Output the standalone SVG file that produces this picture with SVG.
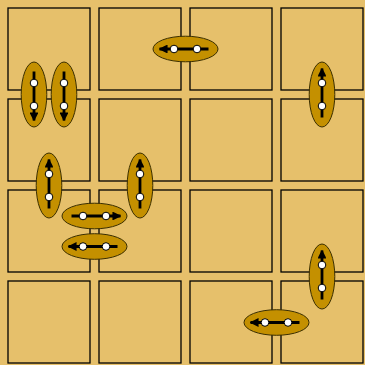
<svg xmlns="http://www.w3.org/2000/svg" width="365" height="365" viewBox="0 0 365 365">
<style>
.cell{fill:none;stroke:#000;stroke-width:1.3}
.ell{fill:#c49000;stroke:#3a2e00;stroke-width:1}
.ax{stroke:#000;stroke-width:2.8;fill:none}
.dot{fill:#fff;stroke:#000;stroke-width:1}
</style>
<defs>
<marker id="ah" viewBox="0 0 10 10" refX="9" refY="5" markerWidth="3.2" markerHeight="3.2" orient="auto" markerUnits="strokeWidth">
<path d="M0,0 L10,5 L0,10 z" fill="#000"/>
</marker>
<g id="hL">
<ellipse class="ell" cx="0" cy="0" rx="32.5" ry="12.8"/>
<line class="ax" x1="23" y1="0" x2="-26" y2="0" marker-end="url(#ah)"/>
<circle class="dot" cx="-11.5" cy="0" r="3.8"/>
<circle class="dot" cx="11.5" cy="0" r="3.8"/>
</g>
</defs>
<rect x="0" y="0" width="365" height="365" fill="#e6c06b"/>
<g id="grid">
<rect class="cell" x="8" y="8" width="82" height="82"/>
<rect class="cell" x="99" y="8" width="82" height="82"/>
<rect class="cell" x="190" y="8" width="82" height="82"/>
<rect class="cell" x="281" y="8" width="82" height="82"/>
<rect class="cell" x="8" y="99" width="82" height="82"/>
<rect class="cell" x="99" y="99" width="82" height="82"/>
<rect class="cell" x="190" y="99" width="82" height="82"/>
<rect class="cell" x="281" y="99" width="82" height="82"/>
<rect class="cell" x="8" y="190" width="82" height="82"/>
<rect class="cell" x="99" y="190" width="82" height="82"/>
<rect class="cell" x="190" y="190" width="82" height="82"/>
<rect class="cell" x="281" y="190" width="82" height="82"/>
<rect class="cell" x="8" y="281" width="82" height="82"/>
<rect class="cell" x="99" y="281" width="82" height="82"/>
<rect class="cell" x="190" y="281" width="82" height="82"/>
<rect class="cell" x="281" y="281" width="82" height="82"/>
</g>
<g id="e1"><use href="#hL" transform="translate(34,94.5) rotate(-90)"/></g>
<g id="e2"><use href="#hL" transform="translate(64,94.5) rotate(-90)"/></g>
<g id="e3"><use href="#hL" transform="translate(185.5,49)"/></g>
<g id="e4"><use href="#hL" transform="translate(322,94.5) rotate(90)"/></g>
<g id="e5"><use href="#hL" transform="translate(49,185.5) rotate(90)"/></g>
<g id="e6"><use href="#hL" transform="translate(140,185.5) rotate(90)"/></g>
<g id="e7"><use href="#hL" transform="translate(94.5,216) rotate(180)"/></g>
<g id="e8"><use href="#hL" transform="translate(94.5,246.5)"/></g>
<g id="e9"><use href="#hL" transform="translate(322,276.5) rotate(90)"/></g>
<g id="e10"><use href="#hL" transform="translate(276.5,322.5)"/></g>
</svg>
